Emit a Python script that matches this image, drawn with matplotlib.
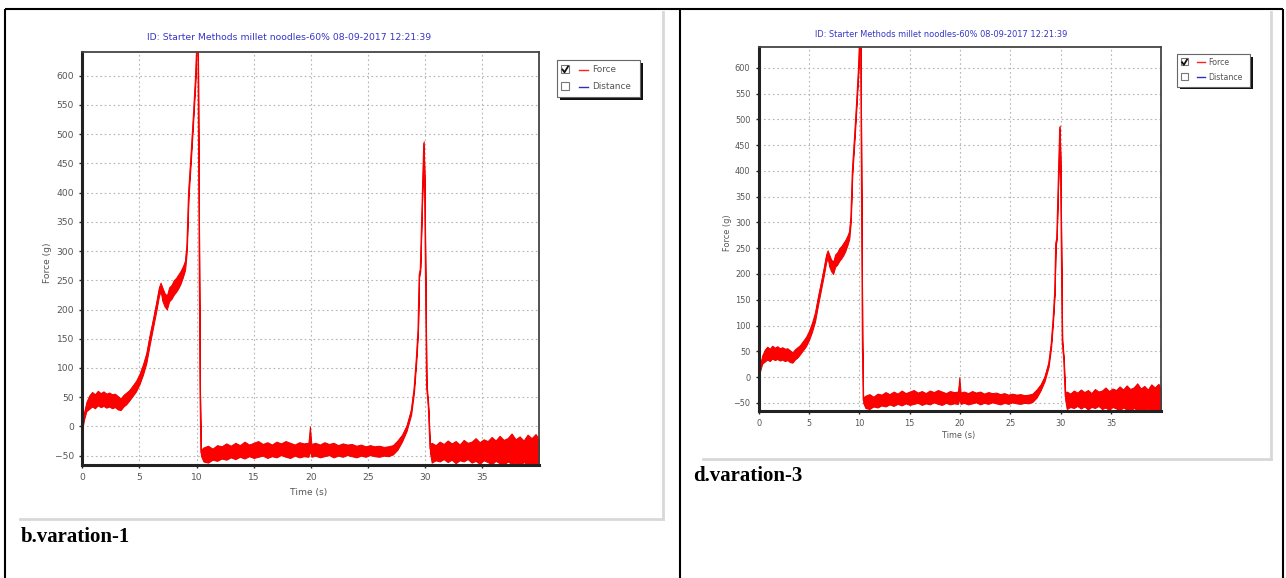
import numpy as np
import matplotlib
matplotlib.use('Agg')
import matplotlib.pyplot as plt
from matplotlib.patches import Rectangle

W, H = 1286, 578

title_text = 'ID: Starter Methods millet noodles-60% 08-09-2017 12:21:39'
legend_labels = ['Force', 'Distance']
captions = ['b.varation-1', 'd.varation-3']
x_ticks = [0, 5, 10, 15, 20, 25, 30, 35]
y_ticks = [-50, 0, 50, 100, 150, 200, 250, 300, 350, 400, 450, 500, 550, 600]

# force trace: time (s), lower and upper edge of the noisy band (g)
time_s = [
    0.0, 0.15, 0.35, 0.6, 0.85, 1.1, 1.35, 1.6, 1.85, 2.1, 2.35, 2.6, 2.85, 3.1, 3.35, 3.6, 3.85,
    4.1, 4.4, 4.7, 5.0, 5.3, 5.6, 5.9, 6.2, 6.5, 6.7, 6.85,
    7.0, 7.2, 7.4, 7.6, 7.8, 8.0, 8.2, 8.4, 8.6, 8.8,
    9.0, 9.15, 9.3, 9.5, 9.7, 9.9, 10.03, 10.12, 10.3, 10.38,
    10.6, 11.0, 11.4, 11.8, 12.2, 12.6, 13.0, 13.4, 13.8, 14.2, 14.6, 15.0, 15.4, 15.8, 16.2,
    16.6, 17.0, 17.4, 17.8, 18.2, 18.6, 19.0, 19.4, 19.8, 19.93, 20.06, 20.4, 20.8, 21.2, 21.6,
    22.0, 22.4, 22.8, 23.2, 23.6, 24.0, 24.4, 24.8, 25.2, 25.6, 26.0, 26.4, 26.8, 27.2,
    27.6, 28.0, 28.4, 28.8, 29.05, 29.25, 29.4, 29.5, 29.6, 29.78, 29.9, 29.97, 30.15, 30.3, 30.45,
    30.6, 30.95, 31.3, 31.65, 32.0, 32.35, 32.7, 33.05, 33.4, 33.75, 34.1, 34.45, 34.8, 35.15,
    35.5, 35.85, 36.2, 36.55, 36.9, 37.25, 37.6, 37.95, 38.3, 38.65, 39.0, 39.35, 39.7, 40.0,
]
force_low = [
    -4, 12, 26, 30, 34, 31, 36, 33, 35, 32, 34, 31, 33, 29, 28, 34, 38,
    44, 52, 60, 72, 88, 108, 140, 170, 200, 222, 232,
    215, 205, 200, 214, 218, 225, 230, 236, 244, 255,
    268, 300, 392, 452, 518, 588, 655, 655, 60, -50,
    -60, -62, -57, -59, -55, -57, -53, -56, -52, -55, -51, -54, -52, -50, -54,
    -51, -53, -49, -52, -54, -50, -53, -51, -52, -42, -52, -50, -53, -51, -49,
    -53, -50, -52, -49, -51, -53, -50, -52, -49, -51, -52, -50, -51, -48,
    -40, -26, -8, 20, 58, 110, 160, 255, 265, 395, 480, 420, 64, 30, -45,
    -62, -58, -60, -56, -61, -57, -63, -58, -60, -56, -62, -59, -64, -58,
    -61, -65, -59, -63, -66, -60, -64, -62, -68, -61, -65, -63, -67, -62,
]
force_high = [
    4, 24, 42, 53, 59, 55, 61, 57, 60, 56, 58, 55, 56, 52, 48, 54, 58,
    62, 70, 78, 90, 106, 126, 158, 186, 216, 238, 246,
    238, 228, 224, 238, 242, 250, 254, 260, 266, 274,
    284, 314, 406, 466, 530, 600, 665, 665, 70, -40,
    -36, -33, -38, -32, -34, -29, -33, -28, -32, -26, -31, -28, -25, -30, -27,
    -31, -26, -29, -25, -28, -31, -27, -29, -28, 0, -30, -28, -31, -27, -30,
    -28, -32, -29, -31, -30, -33, -31, -34, -32, -34, -33, -35, -34, -32,
    -24, -14, 2, 30, 68, 120, 170, 262, 272, 405, 488, 430, 74, 40, -30,
    -28, -32, -26, -30, -24, -29, -25, -31, -23, -28, -26, -20, -27, -22,
    -25, -18, -24, -16, -23, -20, -12, -22, -17, -24, -14, -20, -13, -22,
]

t = np.array(time_s)
lo = np.array(force_low)
hi = np.array(force_high)

fig = plt.figure(figsize=(W / 100, H / 100), dpi=100)
bg = fig.add_axes([0, 0, 1, 1])
bg.set_xlim(0, W)
bg.set_ylim(H, 0)
bg.axis('off')

# table borders
for xs, ys in [([5, 1283], [8.5, 8.5]), ([5, 5], [8.5, H]), ([680, 680], [8.5, H]), ([1283, 1283], [8.5, H])]:
    bg.plot(xs, ys, color='black', lw=1.5, solid_capstyle='butt')

FONT = 'DejaVu Sans'


def draw_panel(ox, oy, s):
    def px(x, y):
        return ox + s * x, oy + s * y

    # grey frame of the screenshot
    x0, y0 = px(19.5, 12)
    x1, y1 = px(663, 519)
    bg.plot([x1, x1], [y0, y1], color='#d8d8d8', lw=2)
    bg.plot([x0, x1], [y1, y1], color='#d8d8d8', lw=2)

    # plot area
    ax_l, ax_t = px(82.4, 51.7)
    ax_r, ax_b = px(539, 465)
    ax = fig.add_axes([ax_l / W, 1 - ax_b / H, (ax_r - ax_l) / W, (ax_b - ax_t) / H])
    ax.fill_between(t, lo, hi, color='#ff0000', lw=0.7, edgecolor='#e80000')
    ax.plot(t, (lo + hi) / 2, color='#ff0000', lw=0.8)
    ax.set_xlim(0, 40)
    ax.set_ylim(-66, 641)
    ax.set_xticks(x_ticks)
    ax.set_yticks(y_ticks)
    ax.grid(True, color='#b4b4b4', lw=0.8, linestyle=(0, (1.5, 2.5)))
    ax.set_axisbelow(True)
    ax.tick_params(labelsize=6.6 * s, colors='#222', labelcolor='#555', length=2, width=1, pad=4)
    for lab in ax.get_xticklabels() + ax.get_yticklabels():
        lab.set_family(FONT)
    for side in ['left', 'bottom']:
        ax.spines[side].set_linewidth(2.2)
        ax.spines[side].set_color('#222')
    for side in ['top', 'right']:
        ax.spines[side].set_linewidth(1.3)
        ax.spines[side].set_color('#444')

    # title and axis labels
    bx, by = px(289, 37.7)
    bg.text(bx, by, title_text, ha='center', va='center', color='#3535c8',
            fontsize=6.7 * s, family=FONT)
    bx, by = px(47, 263)
    bg.text(bx, by, 'Force (g)', ha='center', va='center', rotation=90, color='#555',
            fontsize=6.6 * s, family=FONT)
    bx, by = px(309, 493)
    bg.text(bx, by, 'Time (s)', ha='center', va='center', color='#555',
            fontsize=6.6 * s, family=FONT)

    # legend box with checkboxes
    lx, ly = px(557, 60)
    lw_, lh = 83 * s, 37 * s
    bg.add_patch(Rectangle((lx + 3 * s, ly + 3 * s), lw_, lh, facecolor='#111', edgecolor='none'))
    bg.add_patch(Rectangle((lx, ly), lw_, lh, facecolor='white', edgecolor='#666', lw=0.8))
    colors = ['#ff2020', '#3030c0']
    for i, (lab, c) in enumerate(zip(legend_labels, colors)):
        cy = 69.5 + i * 17
        cbx, cby = px(561, cy - 4.5)
        bg.add_patch(Rectangle((cbx, cby), 8 * s, 8 * s, facecolor='white', edgecolor='#777', lw=0.8))
        if i == 0:
            p1 = px(562.5, cy)
            p2 = px(564.5, cy + 2.8)
            p3 = px(568, cy - 3)
            bg.plot([p1[0], p2[0], p3[0]], [p1[1], p2[1], p3[1]], color='#111', lw=1.3)
        a = px(579, cy)
        b = px(588, cy)
        bg.plot([a[0], b[0]], [a[1], b[1]], color=c, lw=1)
        tx, ty = px(592, cy)
        bg.text(tx, ty, lab, ha='left', va='center', color='#555', fontsize=6.4 * s, family=FONT)
    return ax


draw_panel(0, 0, 1.0)
draw_panel(686, 1, 0.882)

bg.text(20.5, 541.5, captions[0], ha='left', va='baseline', fontsize=15,
        family='Liberation Serif', weight='bold')
bg.text(693.5, 481, captions[1], ha='left', va='baseline', fontsize=15,
        family='Liberation Serif', weight='bold')

fig.savefig('out.png', dpi=100)
